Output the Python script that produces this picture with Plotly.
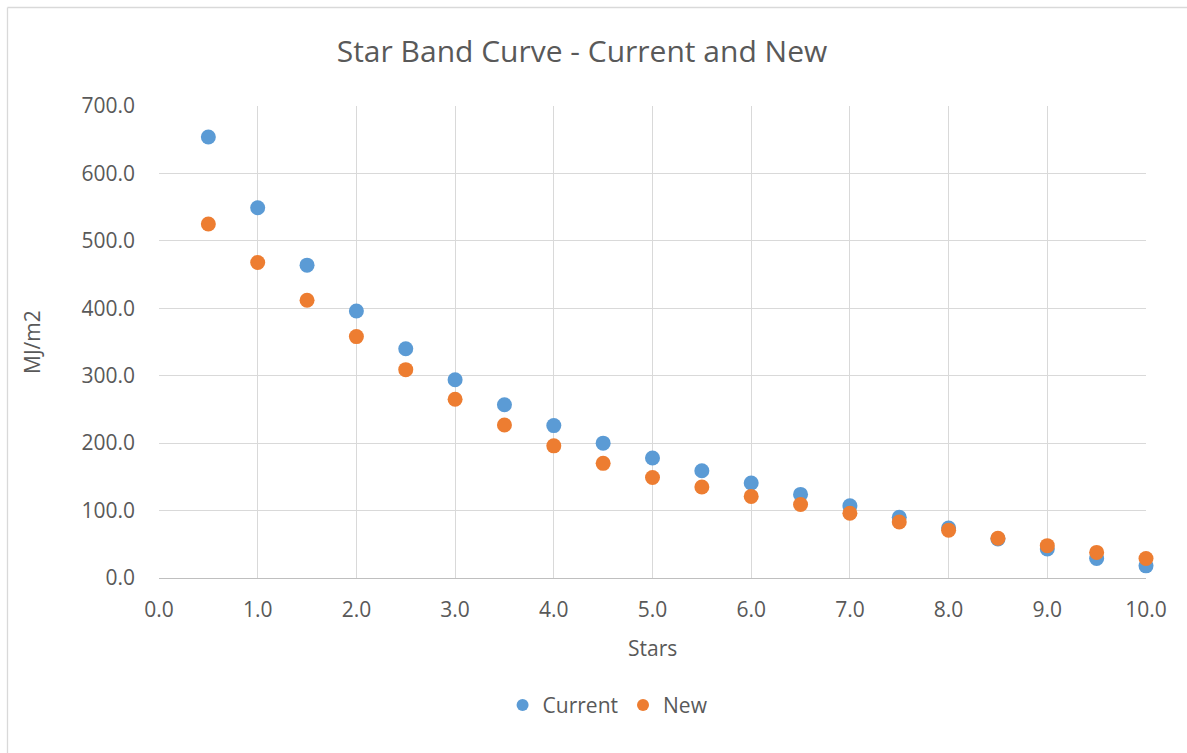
import plotly.graph_objects as go

stars = [0.5, 1.0, 1.5, 2.0, 2.5, 3.0, 3.5, 4.0, 4.5, 5.0,
         5.5, 6.0, 6.5, 7.0, 7.5, 8.0, 8.5, 9.0, 9.5, 10.0]
current = [654, 549, 464, 396, 340, 294, 257, 226, 200, 178,
           159, 141, 124, 107, 90, 74, 58, 43, 29, 18]
new = [525, 468, 412, 358, 309, 265, 227, 196, 170, 149,
       135, 121, 109, 96, 83, 71, 59, 48, 38, 29]

x_ticks = [0, 1, 2, 3, 4, 5, 6, 7, 8, 9, 10]
y_ticks = [0, 100, 200, 300, 400, 500, 600, 700]

FONT = "Open Sans"
TXT = "#595959"
FS = 21

fig = go.Figure()
fig.add_trace(go.Scatter(x=stars, y=current, mode="markers", name="Current",
                         marker=dict(color="#5B9BD5", size=15), cliponaxis=False))
fig.add_trace(go.Scatter(x=stars, y=new, mode="markers", name="New",
                         marker=dict(color="#ED7D31", size=15), cliponaxis=False))

fig.update_layout(
    width=1187, height=753,
    margin=dict(l=159, r=41, t=106, b=175),
    paper_bgcolor="white", plot_bgcolor="white",
    font=dict(family=FONT, color=TXT, size=FS),
    title=dict(text="Star Band Curve - Current and New", x=582 / 1187, xref="container",
               y=1 - 51 / 753, yref="container", xanchor="center", yanchor="middle",
               font=dict(size=30, color=TXT, family=FONT)),
    showlegend=True,
    legend=dict(orientation="h", x=0.455, xanchor="center", y=-0.27, yanchor="middle",
                font=dict(size=FS, color=TXT), itemsizing="constant",
                itemwidth=30, tracegroupgap=0),
    xaxis=dict(range=[0, 10], tickvals=x_ticks, tickformat=".1f",
               showgrid=True, gridcolor="#D9D9D9", gridwidth=1.3,
               zeroline=False, showline=True, linecolor="#BFBFBF", linewidth=1.3,
               ticks="", ticklabelstandoff=13),
    yaxis=dict(range=[0, 700], tickvals=y_ticks, tickformat=".1f",
               showgrid=True, gridcolor="#D9D9D9", gridwidth=1.3,
               zeroline=False, showline=False, ticks="", ticklabelstandoff=23),
    annotations=[
        dict(text="Stars", x=0.5, xref="paper", y=(578 - 648) / 472, yref="paper",
             showarrow=False, xanchor="center", yanchor="middle",
             font=dict(size=FS, color=TXT, family=FONT)),
        dict(text="MJ/m2", x=(32 - 159) / 987, xref="paper", y=0.5, yref="paper",
             showarrow=False, xanchor="center", yanchor="middle", textangle=-90,
             font=dict(size=FS, color=TXT, family=FONT)),
    ],
    shapes=[
        dict(type="line", xref="paper", yref="paper",
             x0=(7.5 - 159) / 987, x1=(1190 - 159) / 987,
             y0=(578 - 7.5) / 472, y1=(578 - 7.5) / 472,
             line=dict(color="#D9D9D9", width=1.3)),
        dict(type="line", xref="paper", yref="paper",
             x0=(7.5 - 159) / 987, x1=(7.5 - 159) / 987,
             y0=(578 - 7.5) / 472, y1=(578 - 760) / 472,
             line=dict(color="#D9D9D9", width=1.3)),
    ],
)

fig.write_html("out.html", config={"displayModeBar": False},
               post_script="document.body.style.margin='0';")
